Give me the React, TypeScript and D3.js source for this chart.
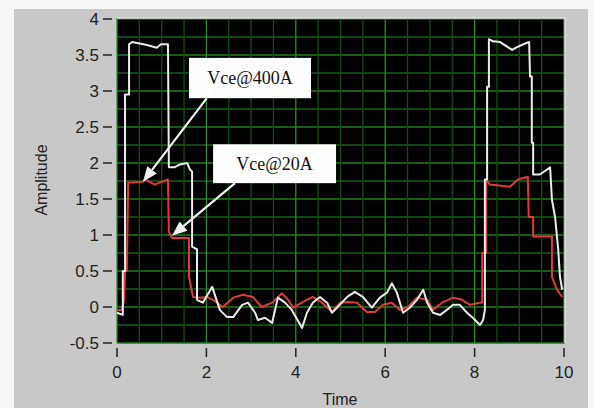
import React from 'react';
import * as d3 from 'd3';

// white trace (large pulse)
const whiteTime = [0, 0.13, 0.13, 0.18, 0.18, 0.27, 0.27, 0.34, 0.67, 0.89, 0.98, 1.14, 1.16, 1.28, 1.41, 1.57, 1.63, 1.68, 1.68, 1.79, 1.79, 1.92, 2.13, 2.3, 2.46, 2.6, 2.8, 2.93, 3.09, 3.15, 3.31, 3.47, 3.6, 3.76, 3.91, 4.14, 4.25, 4.38, 4.54, 4.7, 4.81, 4.92, 5.15, 5.32, 5.5, 5.7, 5.88, 6.04, 6.15, 6.26, 6.4, 6.55, 6.71, 6.85, 6.94, 7.07, 7.23, 7.38, 7.52, 7.67, 7.83, 7.96, 8.12, 8.19, 8.23, 8.23, 8.28, 8.28, 8.32, 8.32, 8.41, 8.57, 8.84, 8.95, 9.13, 9.22, 9.24, 9.28, 9.28, 9.31, 9.31, 9.46, 9.69, 9.73, 9.8, 9.87, 9.91, 9.96];
const whiteValues = [-0.08, -0.11, 0.5, 0.5, 2.95, 2.95, 3.65, 3.68, 3.64, 3.6, 3.65, 3.65, 1.94, 1.94, 1.98, 2.0, 1.91, 1.88, 0.84, 0.8, 0.1, 0.06, 0.28, -0.04, -0.14, -0.14, 0.03, 0.06, -0.08, -0.18, -0.15, -0.22, 0.13, 0.06, -0.04, -0.29, -0.08, 0.06, 0.14, 0.06, -0.08, -0.01, 0.14, 0.21, 0.14, -0.01, 0.13, 0.2, 0.33, 0.2, -0.08, -0.01, 0.1, 0.24, 0.06, -0.08, -0.11, -0.04, 0.03, 0.03, -0.08, -0.15, -0.25, -0.18, -0.04, 1.77, 1.77, 3.06, 3.06, 3.72, 3.69, 3.68, 3.57, 3.61, 3.66, 3.68, 3.2, 3.2, 2.28, 2.28, 1.84, 1.84, 1.94, 1.49, 1.25, 0.8, 0.42, 0.24];

// red trace (small pulse)
const redTime = [0, 0.11, 0.16, 0.18, 0.22, 0.25, 0.36, 0.58, 0.63, 0.85, 0.96, 1.14, 1.16, 1.23, 1.61, 1.61, 1.7, 1.86, 2.01, 2.15, 2.37, 2.6, 2.82, 3.04, 3.24, 3.47, 3.69, 3.83, 3.94, 4.16, 4.38, 4.59, 4.81, 4.99, 5.17, 5.37, 5.59, 5.77, 5.95, 6.15, 6.33, 6.51, 6.71, 6.94, 7.07, 7.27, 7.52, 7.72, 7.9, 8.12, 8.17, 8.17, 8.26, 8.26, 8.34, 8.79, 8.97, 9.19, 9.21, 9.31, 9.31, 9.73, 9.73, 9.84, 9.96];
const redValues = [-0.04, -0.04, 0.1, 0.5, 0.5, 1.73, 1.73, 1.74, 1.77, 1.7, 1.73, 1.77, 1.04, 0.96, 0.96, 0.42, 0.14, 0.13, 0.14, 0.1, 0, 0.13, 0.17, 0.14, 0, 0.06, 0.19, 0.1, -0.01, 0.07, 0.14, 0.06, -0.07, 0.06, 0.07, 0.06, -0.07, -0.07, 0.03, 0.06, -0.04, 0, 0.13, 0.1, -0.04, 0.06, 0.13, 0.1, 0.03, 0.06, 0.06, 0.75, 0.75, 1.77, 1.7, 1.67, 1.77, 1.81, 1.25, 1.25, 0.98, 0.98, 0.42, 0.24, 0.14];

const xTicks = [0, 2, 4, 6, 8, 10];
const yTicks = [-0.5, 0, 0.5, 1, 1.5, 2, 2.5, 3, 3.5, 4];

// annotations in data units: box [t0, t1, vTop, vBottom], arrow from -> tip
const labels = ['Vce@400A', 'Vce@20A'];
const labelBoxes = [[1.61, 4.34, 3.46, 2.9], [2.15, 4.9, 2.26, 1.72]];
const arrowFrom = [[2.01, 2.9], [2.64, 1.72]];
const arrowTip = [[0.58, 1.74], [1.23, 0.99]];

const W = 594;
const H = 408;

const App = () => {
  const x = d3.scaleLinear().domain([0, 10]).range([117, 564]);
  const y = d3.scaleLinear().domain([-0.5, 4]).range([343, 19]);

  const makePath = (ts: number[], vs: number[]) =>
    d3
      .line<number>()
      .x((t) => x(t))
      .y((_, i) => y(vs[i]))(ts) || '';

  const minorX = d3.range(0, 10.01, 0.5);
  const gridY = d3.range(-0.5, 4.01, 0.25);

  const plotLeft = 117;
  const plotRight = 565;
  const plotTop = 18;
  const plotBottom = 343;

  return (
    <svg
      width={W}
      height={H}
      style={{ position: 'absolute', left: 0, top: 0, display: 'block' }}
      fontFamily="Arial, 'Liberation Sans', sans-serif"
    >
      <rect x={0} y={0} width={W} height={H} fill="#f6f6f6" />
      <rect x={14} y={9} width={574} height={H - 9} fill="#c8c8c8" />

      {/* plot area */}
      <rect x={plotLeft} y={plotTop} width={plotRight - plotLeft} height={plotBottom - plotTop} fill="#000" />

      {/* grid */}
      {gridY.map((v, i) => (
        <line
          key={'gy' + i}
          x1={plotLeft}
          x2={plotRight}
          y1={y(v)}
          y2={y(v)}
          stroke={i % 2 === 0 ? '#227a22' : '#185e18'}
          strokeWidth={1.3}
        />
      ))}
      {minorX.map((t, i) => (
        <line
          key={'gx' + i}
          x1={x(t)}
          x2={x(t)}
          y1={plotTop}
          y2={plotBottom}
          stroke={i % 4 === 0 ? '#2a8c2a' : '#144e14'}
          strokeWidth={1.3}
        />
      ))}

      {/* plot frame highlight */}
      <path
        d={`M${plotLeft},${plotTop} H${plotRight} V${plotBottom}`}
        fill="none"
        stroke="#e4e4e4"
        strokeWidth={1.5}
      />

      {/* traces */}
      <path d={makePath(redTime, redValues)} fill="none" stroke="#e23a3a" strokeWidth={2} strokeLinejoin="round" />
      <path d={makePath(whiteTime, whiteValues)} fill="none" stroke="#ececec" strokeWidth={2} strokeLinejoin="round" />

      {/* annotations */}
      {labels.map((lab, i) => {
        const [t0, t1, v0, v1] = labelBoxes[i];
        const x0 = x(t0);
        const x1 = x(t1);
        const y0 = y(v0);
        const y1 = y(v1);
        const fx = x(arrowFrom[i][0]);
        const fy = y(arrowFrom[i][1]);
        const tx = x(arrowTip[i][0]);
        const ty = y(arrowTip[i][1]);
        const ang = Math.atan2(ty - fy, tx - fx);
        const len = 15;
        const wid = 6;
        const bx = tx - len * Math.cos(ang);
        const by = ty - len * Math.sin(ang);
        const head = [
          [tx, ty],
          [bx + wid * Math.sin(ang), by - wid * Math.cos(ang)],
          [bx - wid * Math.sin(ang), by + wid * Math.cos(ang)],
        ];
        return (
          <g key={lab}>
            <line x1={fx} y1={fy} x2={bx} y2={by} stroke="#f2f2f2" strokeWidth={2.2} />
            <polygon points={head.map((p) => p.join(',')).join(' ')} fill="#f2f2f2" />
            <rect x={x0} y={y0} width={x1 - x0} height={y1 - y0} fill="#fff" />
            <text
              x={(x0 + x1) / 2}
              y={(y0 + y1) / 2 + 6}
              textAnchor="middle"
              fontFamily="'Liberation Serif', 'Times New Roman', serif"
              fontSize={18}
              fill="#111"
            >
              {lab}
            </text>
          </g>
        );
      })}

      {/* y axis */}
      {yTicks.map((v) => (
        <g key={'yt' + v}>
          <line x1={103} x2={112} y1={y(v)} y2={y(v)} stroke="#222" strokeWidth={1.5} />
          <text x={99} y={y(v) + 6} textAnchor="end" fontSize={17} fill="#222">
            {v}
          </text>
        </g>
      ))}

      {/* x axis */}
      {xTicks.map((t) => (
        <g key={'xt' + t}>
          <line x1={x(t)} x2={x(t)} y1={348} y2={357} stroke="#222" strokeWidth={1.5} />
          <text x={x(t)} y={378} textAnchor="middle" fontSize={17} fill="#222">
            {t}
          </text>
        </g>
      ))}

      <text x={340} y={405} textAnchor="middle" fontSize={16} fill="#222">
        Time
      </text>
      <text
        transform="translate(47,180) rotate(-90)"
        textAnchor="middle"
        fontSize={16}
        fill="#222"
      >
        Amplitude
      </text>
    </svg>
  );
};

export default App;
